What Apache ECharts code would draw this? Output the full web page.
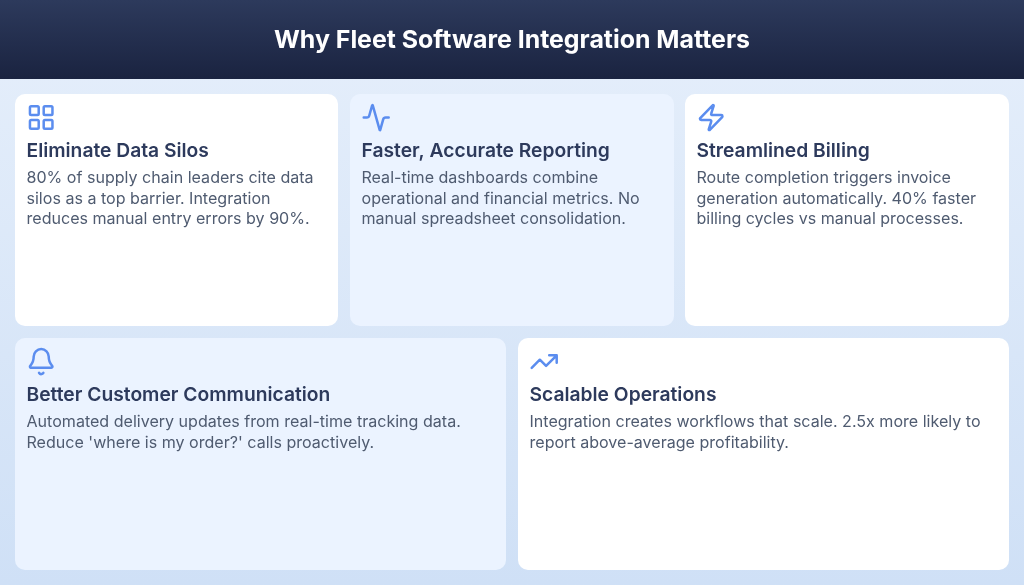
<!DOCTYPE html>
<html><head><meta charset="utf-8">
<style>html,body{margin:0;padding:0;width:1024px;height:585px;overflow:hidden}#c{width:1024px;height:585px}</style>
<script src="https://cdn.jsdelivr.net/npm/echarts@6/dist/echarts.min.js"></script>
</head><body><div id="c"></div>
<script>
const chartTitle = "Why Fleet Software Integration Matters";
const cardTitles = ["Eliminate Data Silos","Faster, Accurate Reporting","Streamlined Billing","Better Customer Communication","Scalable Operations"];
const cardBodies = [
 ["80% of supply chain leaders cite data","silos as a top barrier. Integration","reduces manual entry errors by 90%."],
 ["Real-time dashboards combine","operational and financial metrics. No","manual spreadsheet consolidation."],
 ["Route completion triggers invoice","generation automatically. 40% faster","billing cycles vs manual processes."],
 ["Automated delivery updates from real-time tracking data.","Reduce 'where is my order?' calls proactively."],
 ["Integration creates workflows that scale. 2.5x more likely to","report above-average profitability."]
];
const iconPaths = [
 "M4 3H9A1 1 0 0 1 10 4V9A1 1 0 0 1 9 10H4A1 1 0 0 1 3 9V4A1 1 0 0 1 4 3ZM15 3H20A1 1 0 0 1 21 4V9A1 1 0 0 1 20 10H15A1 1 0 0 1 14 9V4A1 1 0 0 1 15 3ZM15 14H20A1 1 0 0 1 21 15V20A1 1 0 0 1 20 21H15A1 1 0 0 1 14 20V15A1 1 0 0 1 15 14ZM4 14H9A1 1 0 0 1 10 15V20A1 1 0 0 1 9 21H4A1 1 0 0 1 3 20V15A1 1 0 0 1 4 14Z",
 "M22 12h-2.48a2 2 0 0 0-1.93 1.46l-2.35 8.36a.25.25 0 0 1-.48 0L9.24 2.18a.25.25 0 0 0-.48 0l-2.35 8.36A2 2 0 0 1 4.49 12H2",
 "M4 14a1 1 0 0 1-.78-1.63l9.9-10.2a.5.5 0 0 1 .86.46l-1.92 6.02A1 1 0 0 0 13 10h7a1 1 0 0 1 .78 1.63l-9.9 10.2a.5.5 0 0 1-.86-.46l1.92-6.02A1 1 0 0 0 11 14z",
 "M10.268 21a2 2 0 0 0 3.464 0M3.262 15.326A1 1 0 0 0 4 17h16a1 1 0 0 0 .74-1.673C19.41 13.956 18 12.499 18 8A6 6 0 0 0 6 8c0 4.499-1.411 5.956-2.738 7.326",
 "M16 7h6v6M22 7l-8.5 8.5-5-5L2 17"
];
const cardBoxes = [[15,94,323,232],[350,94,324,232],[685,94,324,232],[15,338,491,232],[518,338,491,232]];
const cardFills = ["#ffffff","#ebf3ff","#ffffff","#ebf3ff","#ffffff"];

const FONT = "Inter, sans-serif";
const els = [
 {type:'rect',shape:{x:0,y:0,width:1024,height:585},silent:true,
  style:{fill:new echarts.graphic.LinearGradient(0,0,0,1,[{offset:0,color:'#e6effb'},{offset:1,color:'#cfe0f6'}])}},
 {type:'rect',shape:{x:0,y:0,width:1024,height:79},silent:true,
  style:{fill:new echarts.graphic.LinearGradient(0,0,0,1,[{offset:0,color:'#2d3a5c'},{offset:1,color:'#1a2340'}])}},
 {type:'text',x:512,y:40.5,style:{text:chartTitle,fill:'#ffffff',font:'700 24.9px '+FONT,align:'center',verticalAlign:'middle'}}
];
cardBoxes.forEach((b,i)=>{
  els.push({type:'rect',shape:{x:b[0],y:b[1],width:b[2],height:b[3],r:10},style:{fill:cardFills[i]},silent:true});
  els.push({type:'text',x:b[0]+11.5,y:b[1]+57,style:{text:cardTitles[i],fill:'#2d3a5c',font:'600 19.25px '+FONT,align:'left',verticalAlign:'middle'}});
  cardBodies[i].forEach((ln,k)=>{
    els.push({type:'text',x:b[0]+11.5,y:b[1]+84.5+k*20.4,style:{text:ln,fill:'#4f5b70',font:'400 16.07px '+FONT,align:'left',verticalAlign:'middle'}});
  });
});
const chart = echarts.init(document.getElementById('c'),null,{renderer:'canvas',width:1024,height:585});
chart.setOption({animation:false,graphic:{elements:els},
 series:[{type:'custom',coordinateSystem:'none',silent:true,z:10,data:iconPaths.map((p,i)=>i),
  renderItem:(params,api)=>{
    const i=api.value(0), b=cardBoxes[i], sc=1.25;
    return {type:'path',x:b[0]+11.2,y:b[1]+8.6,scaleX:sc,scaleY:sc,shape:{pathData:iconPaths[i]},
      style:{fill:'none',stroke:'#5b8def',lineWidth:2,lineCap:'round',lineJoin:'round'}};
  }}]});
</script></body></html>
